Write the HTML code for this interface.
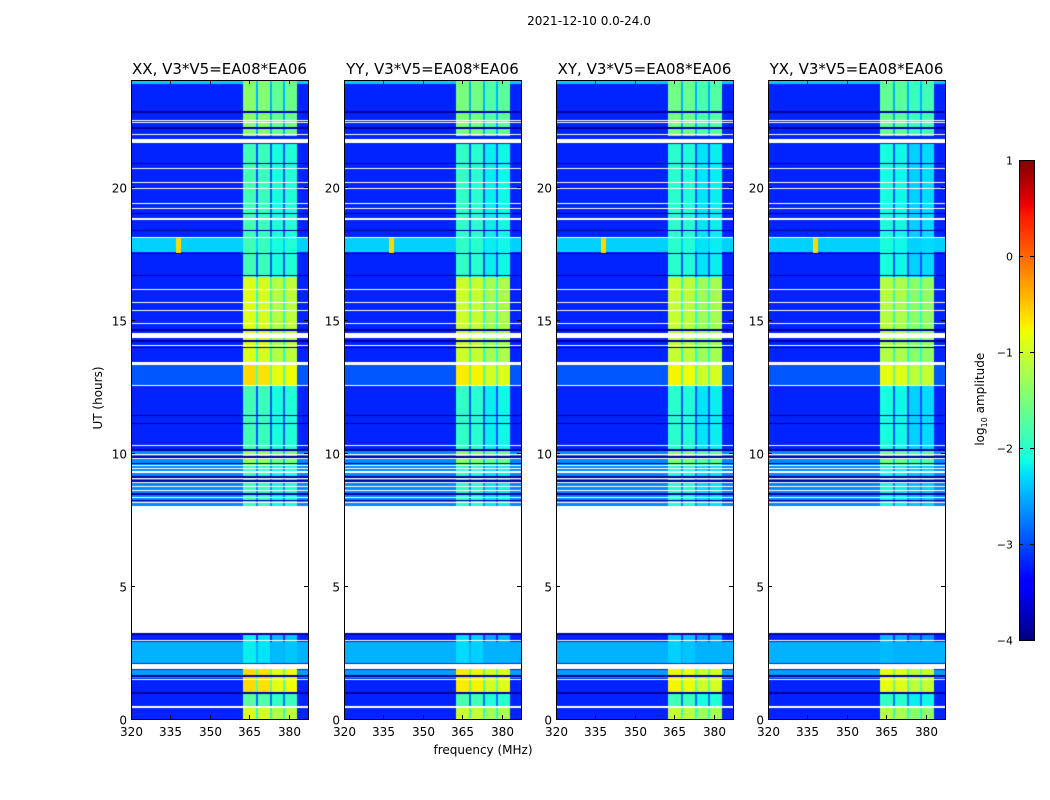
<!DOCTYPE html>
<html><head><meta charset="utf-8">
<style>
body{margin:0;background:#fff;width:1050px;height:800px;overflow:hidden;font-family:"DejaVu Sans","Liberation Sans",sans-serif;}
#root{position:relative;width:1050px;height:800px;}
.t{position:absolute;white-space:nowrap;color:#000;}
canvas{position:absolute;}
</style></head>
<body>
<div id="root">
<div class="t" style="left:489px;top:14px;width:200px;text-align:center;font-size:12px;">2021-12-10 0.0-24.0</div>
<div class="t" style="left:48px;top:391px;width:100px;text-align:center;font-size:12px;transform:rotate(-90deg);">UT (hours)</div>
<div class="t" style="left:383px;top:743px;width:200px;text-align:center;font-size:12px;">frequency (MHz)</div>
<div class="t" style="left:921px;top:391px;width:120px;text-align:center;font-size:12px;transform:rotate(-90deg);">log<sub style="font-size:8px">10</sub> amplitude</div>
<svg id="ov" width="1050" height="800" style="position:absolute;left:0;top:0"></svg>
</div>
<script>
// ---- data ----
const panelTitles = ["XX, V3*V5=EA08*EA06","YY, V3*V5=EA08*EA06","XY, V3*V5=EA08*EA06","YX, V3*V5=EA08*EA06"];
const panelOffsets = [0, -0.1, -0.15, -0.25];
const xTicks = [320,335,350,365,380];
const yTicks = [0,5,10,15,20];
const cbTicks = [1,0,-1,-2,-3,-4];
const flagged = [[22.38,22.42],[22.46,22.5],[21.93,21.97],[21.64,21.8],[20.65,20.69],[20.14,20.18],[19.92,19.96],[19.34,19.38],[19.15,19.19],[18.74,18.8],[18.07,18.11],[16.11,16.15],[15.63,15.67],[15.33,15.37],[14.84,14.88],[14.3,14.48],[14.01,14.05],[13.3,13.42],[12.51,12.55],[10.26,10.3],[9.92,9.96],[9.75,9.8],[9.5,9.55],[9.38,9.42],[9.25,9.3],[9.0,9.05],[8.85,8.9],[8.7,8.75],[8.55,8.6],[8.3,8.35],[8.1,8.15],[3.23,7.99],[2.94,2.98],[1.88,2.05],[1.48,1.52],[0.43,0.47]];
const darkLines = [22.8,22.2,20.86,18.98,18.35,17.48,16.66,14.6,14.2,13.95,11.4,11.1,10.1,9.85,9.6,9.1,8.95,8.45,8.2,3.2,1.62,0.98];
const baseSegs = [[8.0,10.1,-2.7],[2.1,2.9,-2.5],[1.55,1.85,-2.6],[12.55,13.3,-2.95],[23.85,24,-2.4],[17.55,18.05,-2.35]];
const bandSegs = [[21.9,24,-1.5],[16.6,21.6,-1.95],[13.4,16.6,-1.0],[12.55,13.3,-0.7],[10.1,12.55,-1.95],[9.5,10.1,-1.4],[8,9.5,-2.0],[2.1,3.25,-2.3],[0.98,1.9,-0.7],[0.45,0.98,-1.8],[0,0.45,-1.0]];
const subBands = [[362.6,367.5],[368.3,372.9],[373.6,377.8],[378.6,383.1]];
const subOffsets = [0.1,0.05,-0.15,-0.1];
const rfiTimes = [17.5,18.1];
const rfiFreq = 338;
const baseLevel = -3.2;

// ---- geometry ----
const panelX = [131,344,556,768], PW = 177, PY0 = 80, PY1 = 719;
const fMin = 320, fMax = 387.3, tMin = 0, tMax = 24;
const xs = (p,f)=>panelX[p] + (f-fMin)/(fMax-fMin)*PW;
const ys = t=>PY1 - (t-tMin)/(tMax-tMin)*(PY1-PY0);
const cbX=1019, cbW=15, cbY0=160, cbY1=640;
const cbs = v=>cbY0 + (1-v)/5*(cbY1-cbY0);

function jet(x){x=Math.max(0,Math.min(1,x));
 const r=x<0.35?0:x<0.66?(x-0.35)/0.31:x<0.89?1:1-(x-0.89)/0.11*0.5;
 const g=x<0.125?0:x<0.375?(x-0.125)/0.25:x<0.64?1:x<0.91?1-(x-0.64)/0.27:0;
 const b=x<0.11?0.5+x/0.11*0.5:x<0.34?1:x<0.65?1-(x-0.34)/0.31:0;
 return [r*255|0,g*255|0,b*255|0];}
function seg(arr,t,def){for(const s of arr) if(t>=s[0]&&t<s[1]) return s[2]; return def;}
function val(p,f,t){
 for(const w of flagged) if(t>=w[0]&&t<=w[1]) return NaN;
 for(const d of darkLines) if(Math.abs(t-d)<0.03) return -3.85;
 let v = seg(baseSegs,t,baseLevel);
 const bl = seg(bandSegs,t,null);
 if(bl!==null && f>=subBands[0][0] && f<=subBands[3][1]){
   let inSub=false;
   subBands.forEach((s,k)=>{ if(f>=s[0]&&f<=s[1]){ inSub=true; v=Math.max(v,bl+subOffsets[k]+panelOffsets[p]); } });
   if(!inSub) v=Math.max(v,bl-1.0);
 }
 if(t>=rfiTimes[0]&&t<=rfiTimes[1]&&Math.abs(f-rfiFreq)<1) v=-0.6;
 return v;
}
const root=document.getElementById('root');
const svg=document.getElementById('ov');
const NS='http://www.w3.org/2000/svg';
function sv(tag,attrs){const e=document.createElementNS(NS,tag);for(const k in attrs)e.setAttribute(k,attrs[k]);svg.appendChild(e);return e;}
function txt(x,y,s,anchor,size,name){const e=sv('text',{x:x,y:y,'text-anchor':anchor,'font-size':size,'font-family':'DejaVu Sans, Liberation Sans, sans-serif'});e.textContent=s;
 
 
 return e;}

for(let p=0;p<4;p++){
 const c=document.createElement('canvas');
 c.width=PW;c.height=PY1-PY0;
 c.style.left=panelX[p]+'px';c.style.top=PY0+'px';
 
 
 root.insertBefore(c,svg);
 const ctx=c.getContext('2d');const im=ctx.createImageData(c.width,c.height);
 for(let j=0;j<c.height;j++){
   const t=tMax-(j+0.5)/(PY1-PY0)*(tMax-tMin);
   for(let i=0;i<c.width;i++){
     const f=fMin+(i+0.5)/PW*(fMax-fMin);
     const v=val(p,f,t);const o=(j*c.width+i)*4;
     if(isNaN(v)){im.data[o]=im.data[o+1]=im.data[o+2]=255;}
     else{const col=jet((v+4)/5);im.data[o]=col[0];im.data[o+1]=col[1];im.data[o+2]=col[2];}
     im.data[o+3]=255;
   }
 }
 ctx.putImageData(im,0,0);
 const fr=sv('rect',{x:panelX[p]+0.5,y:PY0+0.5,width:PW,height:PY1-PY0,fill:'none',stroke:'#000','stroke-width':1});
 
 
 txt(panelX[p]+PW/2,74,panelTitles[p],'middle',15,'panel-title-'+(p+1));
 xTicks.forEach(v=>{const x=Math.round(xs(p,v))+0.5;
   sv('line',{x1:x,x2:x,y1:PY1,y2:PY1-4,stroke:'#000'});
   sv('line',{x1:x,x2:x,y1:PY0,y2:PY0+4,stroke:'#000'});
   txt(x,PY1+17,String(v),'middle',12,'x-tick-label');});
 yTicks.forEach(v=>{const y=Math.round(ys(v))+0.5;
   sv('line',{x1:panelX[p],x2:panelX[p]+4,y1:y,y2:y,stroke:'#000'});
   sv('line',{x1:panelX[p]+PW,x2:panelX[p]+PW-4,y1:y,y2:y,stroke:'#000'});
   txt(panelX[p]-4,y+5,String(v),'end',12,'y-tick-label');});
}
// colorbar
const cb=document.createElement('canvas');cb.width=cbW;cb.height=cbY1-cbY0;
cb.style.left=cbX+'px';cb.style.top=cbY0+'px';


root.insertBefore(cb,svg);
const cctx=cb.getContext('2d');
for(let j=0;j<cb.height;j++){const v=1-(j+0.5)/cb.height*5;const col=jet((v+4)/5);cctx.fillStyle='rgb('+col+')';cctx.fillRect(0,j,cbW,1);}
sv('rect',{x:cbX+0.5,y:cbY0+0.5,width:cbW,height:cbY1-cbY0,fill:'none',stroke:'#000'});
cbTicks.forEach(v=>{const y=Math.round(cbs(v))+0.5;
 sv('line',{x1:cbX,x2:cbX+4,y1:y,y2:y,stroke:'#000'});
 sv('line',{x1:cbX+cbW,x2:cbX+cbW-4,y1:y,y2:y,stroke:'#000'});
 txt(cbX-6,y+4,v<0?'\u2212'+(-v):String(v),'end',11,'colorbar-tick-label');});
</script>
</body></html>
